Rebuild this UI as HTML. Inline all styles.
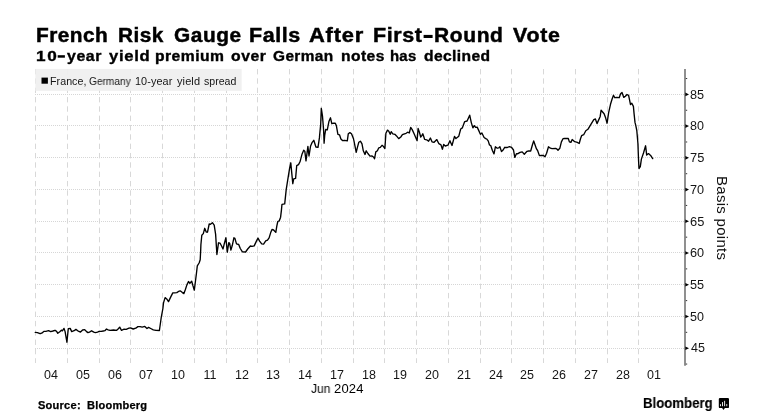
<!DOCTYPE html>
<html><head><meta charset="utf-8"><title>Chart</title>
<style>
html,body{margin:0;padding:0;background:#fff;}
body{width:760px;height:414px;position:relative;overflow:hidden;font-family:"Liberation Sans",sans-serif;color:#000;}
.w{will-change:transform;position:absolute;white-space:nowrap;line-height:1;transform-origin:0 0;display:block;}
.g{color:#151515;}
.c{width:40px;text-align:center;}
#title .w{-webkit-text-stroke:0.45px #000;}
#sub .w{-webkit-text-stroke:0.35px #000;}
#bp{will-change:transform;position:absolute;white-space:nowrap;line-height:1;left:730.4px;top:176.2px;font-size:15px;transform-origin:0 0;transform:rotate(90deg);letter-spacing:0.28px;color:#111;}
svg{position:absolute;left:0;top:0;}
</style></head><body>
<svg width="760" height="414" viewBox="0 0 760 414">
<g stroke="#d8d8d8" stroke-width="1" stroke-dasharray="5.4 3.93" fill="none"><line x1="35.5" y1="69" x2="35.5" y2="363"/><line x1="67.5" y1="69" x2="67.5" y2="363"/><line x1="99.5" y1="69" x2="99.5" y2="363"/><line x1="130.5" y1="69" x2="130.5" y2="363"/><line x1="162.5" y1="69" x2="162.5" y2="363"/><line x1="194.5" y1="69" x2="194.5" y2="363"/><line x1="226.5" y1="69" x2="226.5" y2="363"/><line x1="257.5" y1="69" x2="257.5" y2="363"/><line x1="289.5" y1="69" x2="289.5" y2="363"/><line x1="321.5" y1="69" x2="321.5" y2="363"/><line x1="353.5" y1="69" x2="353.5" y2="363"/><line x1="384.5" y1="69" x2="384.5" y2="363"/><line x1="416.5" y1="69" x2="416.5" y2="363"/><line x1="448.5" y1="69" x2="448.5" y2="363"/><line x1="480.5" y1="69" x2="480.5" y2="363"/><line x1="511.5" y1="69" x2="511.5" y2="363"/><line x1="543.5" y1="69" x2="543.5" y2="363"/><line x1="575.5" y1="69" x2="575.5" y2="363"/><line x1="607.5" y1="69" x2="607.5" y2="363"/><line x1="638.5" y1="69" x2="638.5" y2="363"/></g>
<g stroke="#d6d6d6" stroke-width="1" stroke-dasharray="1 1" fill="none"><line x1="35" y1="348.5" x2="684.5" y2="348.5"/><line x1="35" y1="316.5" x2="684.5" y2="316.5"/><line x1="35" y1="284.5" x2="684.5" y2="284.5"/><line x1="35" y1="252.5" x2="684.5" y2="252.5"/><line x1="35" y1="221.5" x2="684.5" y2="221.5"/><line x1="35" y1="189.5" x2="684.5" y2="189.5"/><line x1="35" y1="157.5" x2="684.5" y2="157.5"/><line x1="35" y1="125.5" x2="684.5" y2="125.5"/><line x1="35" y1="94.5" x2="684.5" y2="94.5"/></g>
<rect x="35.3" y="68.9" width="206.4" height="22" fill="#efefef" fill-opacity="0.93"/>
<rect x="423.6" y="34.9" width="9" height="3.1" fill="#000"/><rect x="57.7" y="55.2" width="7.2" height="2.5" fill="#000"/>
<rect x="41.5" y="77.6" width="6.4" height="6.1" fill="#000"/>
<line x1="685" y1="69" x2="685" y2="365.8" stroke="#7c7c7c" stroke-width="1.7"/>
<path d="M685.3 346.40 L689.0 348.20 L685.3 350.00 Z" fill="#000"/><path d="M685.3 314.68 L689.0 316.48 L685.3 318.28 Z" fill="#000"/><path d="M685.3 282.95 L689.0 284.75 L685.3 286.55 Z" fill="#000"/><path d="M685.3 251.22 L689.0 253.03 L685.3 254.83 Z" fill="#000"/><path d="M685.3 219.50 L689.0 221.30 L685.3 223.10 Z" fill="#000"/><path d="M685.3 187.77 L689.0 189.57 L685.3 191.38 Z" fill="#000"/><path d="M685.3 156.05 L689.0 157.85 L685.3 159.65 Z" fill="#000"/><path d="M685.3 124.33 L689.0 126.12 L685.3 127.92 Z" fill="#000"/><path d="M685.3 92.60 L689.0 94.40 L685.3 96.20 Z" fill="#000"/><line x1="685.8" y1="364.06" x2="687.2" y2="364.06" stroke="#333" stroke-width="1"/><line x1="685.8" y1="332.34" x2="687.2" y2="332.34" stroke="#333" stroke-width="1"/><line x1="685.8" y1="300.61" x2="687.2" y2="300.61" stroke="#333" stroke-width="1"/><line x1="685.8" y1="268.89" x2="687.2" y2="268.89" stroke="#333" stroke-width="1"/><line x1="685.8" y1="237.16" x2="687.2" y2="237.16" stroke="#333" stroke-width="1"/><line x1="685.8" y1="205.44" x2="687.2" y2="205.44" stroke="#333" stroke-width="1"/><line x1="685.8" y1="173.71" x2="687.2" y2="173.71" stroke="#333" stroke-width="1"/><line x1="685.8" y1="141.99" x2="687.2" y2="141.99" stroke="#333" stroke-width="1"/><line x1="685.8" y1="110.26" x2="687.2" y2="110.26" stroke="#333" stroke-width="1"/><line x1="685.8" y1="78.54" x2="687.2" y2="78.54" stroke="#333" stroke-width="1"/>
<polyline points="35.3,332.4 37.4,332.6 40.1,333.7 41.7,333.2 43.8,331.4 45.9,331.4 48.6,330.7 50.7,331.6 52.9,331.0 55.0,330.3 56.6,331.4 57.8,333.3 59.8,331.8 61.4,330.2 62.4,330.8 64.0,328.4 65.1,331.6 66.9,342.2 68.3,328.6 70.2,328.4 71.7,331.6 74.1,330.7 75.9,329.4 77.8,330.8 80.5,332.1 82.6,330.0 84.7,329.6 86.3,331.4 87.9,332.6 89.5,332.1 91.6,330.8 93.8,332.1 95.4,332.6 97.5,332.1 99.1,331.4 101.2,331.4 103.3,331.0 104.9,330.7 106.5,329.0 108.1,329.8 110.0,330.3 113.5,330.0 116.7,330.3 118.3,328.7 119.7,327.1 121.5,330.3 124.1,329.2 126.2,329.4 128.9,328.2 130.5,327.9 133.2,329.0 135.8,328.2 137.9,326.6 140.1,326.6 142.2,327.1 144.8,326.4 147.0,328.5 148.6,327.4 150.7,328.5 153.3,329.8 156.0,330.4 159.4,330.5 161.3,317.0 162.9,308.5 163.5,302.9 165.1,297.6 166.7,298.9 168.5,301.6 170.9,296.6 172.8,292.9 174.7,292.9 176.8,292.6 178.9,291.2 180.5,291.0 182.4,292.6 183.9,293.6 185.3,289.7 186.9,284.9 188.5,281.5 189.9,283.3 191.7,281.2 193.0,285.9 194.3,290.2 196.3,274.5 197.3,265.8 199.1,263.0 200.2,259.8 200.7,250.1 200.9,244.8 201.8,235.2 203.3,233.6 204.7,228.3 206.2,232.0 207.5,232.2 209.2,224.0 210.5,224.3 212.4,222.7 214.2,225.1 215.6,234.1 216.9,254.5 218.5,242.8 220.1,243.2 221.7,246.3 223.0,249.0 224.3,243.7 225.9,237.8 227.3,252.2 228.8,242.6 229.6,243.2 230.9,250.1 232.3,245.3 233.9,237.8 234.9,238.4 236.5,243.9 238.7,244.5 240.3,248.5 242.4,251.9 245.6,252.0 247.7,249.0 250.4,246.0 252.1,246.4 254.2,245.9 256.4,241.1 258.0,238.2 259.6,241.1 261.7,243.8 263.6,244.1 265.7,240.9 267.5,240.1 269.1,237.9 270.7,232.6 272.0,229.4 273.6,230.0 275.8,232.4 276.8,226.2 277.8,221.5 279.2,220.9 280.6,217.2 281.4,210.3 281.9,205.0 282.0,204.4 284.7,203.9 286.2,189.6 287.9,178.9 289.6,168.3 290.8,162.8 291.4,169.4 292.8,183.7 293.7,178.9 295.6,178.4 296.7,165.7 298.5,164.6 300.0,161.8 302.1,153.9 303.7,150.2 304.8,151.2 306.0,160.8 307.9,146.4 309.0,156.0 310.6,145.9 312.0,142.7 313.8,140.3 315.9,147.0 318.0,147.3 319.4,137.9 320.7,124.1 321.3,108.3 322.5,116.2 323.6,130.1 324.1,143.2 324.7,135.4 325.7,129.5 327.3,129.9 328.9,121.6 330.5,117.8 331.8,123.7 333.7,123.2 335.3,123.2 336.4,125.8 337.9,134.3 339.5,134.8 340.9,139.0 342.5,140.6 344.6,140.3 347.3,140.9 348.3,133.7 349.9,132.6 351.5,133.7 353.6,139.0 353.7,139.7 355.1,146.6 356.2,152.4 357.5,147.1 358.8,142.3 360.4,141.2 362.0,143.9 363.3,150.8 365.0,154.5 366.2,150.8 367.9,153.5 370.0,156.1 372.1,155.9 373.7,157.2 374.5,158.8 375.8,151.9 377.4,150.8 378.8,147.8 380.3,147.4 382.0,145.3 383.5,146.6 384.9,148.5 385.9,133.3 387.5,130.1 388.8,131.2 390.2,134.3 391.2,131.7 392.8,133.8 394.9,134.3 396.5,135.9 398.7,138.6 400.8,137.0 402.4,134.7 404.5,133.8 406.1,133.3 407.7,132.2 409.3,133.0 410.7,127.4 412.2,129.6 414.1,133.8 415.7,137.5 417.1,140.7 418.1,128.5 419.4,132.2 420.7,137.0 421.7,135.9 422.8,133.8 423.9,137.0 424.6,139.4 426.7,139.8 428.6,141.2 430.4,138.0 432.0,141.8 434.1,142.3 436.8,139.6 438.9,143.7 441.0,144.9 442.4,149.2 443.7,144.4 445.3,146.0 447.9,145.2 449.9,140.7 452.0,145.5 454.5,136.4 455.9,138.6 458.8,136.2 460.7,129.0 462.3,127.9 464.7,121.6 467.1,121.0 469.7,115.2 471.3,122.6 472.9,127.9 474.3,125.6 475.6,127.4 477.2,127.1 478.8,130.6 480.4,134.3 481.9,133.0 484.1,137.5 485.7,138.6 486.6,138.8 488.2,140.9 489.5,145.0 490.8,145.7 492.4,150.5 494.0,153.9 495.4,146.8 497.2,148.2 498.8,147.8 499.9,146.8 501.5,151.6 503.1,150.0 504.7,147.3 507.3,147.5 509.4,146.6 511.6,147.3 513.5,150.0 514.8,157.4 516.4,153.7 517.9,153.7 520.1,152.4 522.2,151.9 524.3,154.2 527.0,151.3 528.6,151.0 530.7,151.0 532.3,145.2 533.7,140.9 535.0,144.7 536.5,148.9 537.6,150.5 539.4,155.6 541.3,155.3 543.5,155.5 545.0,156.7 546.6,153.2 548.5,146.8 550.4,148.2 552.0,148.6 555.7,148.4 556.6,148.8 558.0,150.2 559.8,148.3 561.4,141.9 563.0,138.7 564.6,138.5 568.3,138.5 569.4,141.9 570.9,142.4 572.2,139.5 574.7,141.7 577.3,142.4 579.2,143.5 580.5,138.7 581.6,135.7 583.7,134.7 585.8,130.7 587.9,129.3 590.6,124.9 593.8,119.6 595.4,119.0 597.0,123.6 598.6,120.1 600.2,116.4 601.1,110.2 604.1,113.7 605.7,118.1 607.1,123.2 608.6,112.8 610.5,104.3 612.1,99.0 613.5,95.3 614.8,97.7 616.9,97.4 619.2,97.7 620.6,93.7 622.0,92.4 623.8,97.4 625.4,96.3 627.0,94.5 628.6,95.3 629.6,100.1 630.5,104.5 631.8,103.2 633.4,106.4 634.1,113.9 635.0,122.4 635.7,125.2 636.8,130.5 637.9,143.2 638.6,161.2 639.0,168.5 640.3,166.6 641.4,159.1 643.5,153.0 645.6,145.8 646.7,155.1 648.5,153.6 650.6,155.4 652.7,158.6" fill="none" stroke="#000" stroke-width="1.35" stroke-linejoin="round" stroke-linecap="round"/>
<g fill="#000"><rect x="718.8" y="397.9" width="10.2" height="10.2" rx="1.2"/><path d="M721.9 407.8 L725.1 407.8 L723.5 409.9 Z"/></g>
<g fill="#fff"><rect x="720.0" y="404.2" width="0.9" height="2"/><rect x="722.1" y="402.1" width="0.9" height="4.1"/><rect x="724.2" y="400.8" width="0.9" height="5.4"/><rect x="726.4" y="404" width="0.8" height="2.2"/></g>
</svg>
<div id="title"><span class="w" style="left:35.50px;top:25.96px;font-size:19.3px;font-weight:bold;letter-spacing:0.444px;transform:scaleX(1.0803);">French</span><span class="w" style="left:117.60px;top:25.96px;font-size:19.3px;font-weight:bold;letter-spacing:0.462px;transform:scaleX(1.0787);">Risk</span><span class="w" style="left:173.65px;top:25.96px;font-size:19.3px;font-weight:bold;letter-spacing:0.519px;transform:scaleX(1.0794);">Gauge</span><span class="w" style="left:249.06px;top:25.96px;font-size:19.3px;font-weight:bold;letter-spacing:0.533px;transform:scaleX(1.1128);">Falls</span><span class="w" style="left:309.26px;top:25.96px;font-size:19.3px;font-weight:bold;letter-spacing:0.685px;transform:scaleX(1.1355);">After</span><span class="w" style="left:372.96px;top:25.96px;font-size:19.3px;font-weight:bold;letter-spacing:0.516px;transform:scaleX(1.1130);">First</span><span class="w" style="left:434.19px;top:25.96px;font-size:19.3px;font-weight:bold;letter-spacing:0.573px;transform:scaleX(1.0878);">Round</span><span class="w" style="left:512.50px;top:25.96px;font-size:19.3px;font-weight:bold;letter-spacing:0.649px;transform:scaleX(1.1085);">Vote</span></div>
<div id="sub"><span class="w" style="left:35.73px;top:48.84px;font-size:14.25px;font-weight:bold;letter-spacing:1.385px;transform:scaleX(1.2050);">10</span><span class="w" style="left:66.80px;top:48.84px;font-size:14.25px;font-weight:bold;letter-spacing:0.498px;transform:scaleX(1.1139);">year</span><span class="w" style="left:109.20px;top:48.84px;font-size:14.25px;font-weight:bold;letter-spacing:0.603px;transform:scaleX(1.1656);">yield</span><span class="w" style="left:155.22px;top:48.84px;font-size:14.25px;font-weight:bold;letter-spacing:0.434px;transform:scaleX(1.0996);">premium</span><span class="w" style="left:230.51px;top:48.84px;font-size:14.25px;font-weight:bold;letter-spacing:0.465px;transform:scaleX(1.1054);">over</span><span class="w" style="left:273.12px;top:48.84px;font-size:14.25px;font-weight:bold;letter-spacing:0.377px;transform:scaleX(1.0805);">German</span><span class="w" style="left:340.52px;top:48.84px;font-size:14.25px;font-weight:bold;letter-spacing:0.395px;transform:scaleX(1.0967);">notes</span><span class="w" style="left:389.57px;top:48.84px;font-size:14.25px;font-weight:bold;letter-spacing:0.242px;transform:scaleX(1.0479);">has</span><span class="w" style="left:423.71px;top:48.84px;font-size:14.25px;font-weight:bold;letter-spacing:0.349px;transform:scaleX(1.0969);">declined</span></div>
<div id="leg" class="g"><span class="w" style="left:49.77px;top:76.01px;font-size:10.5px;font-weight:normal;letter-spacing:0.040px;transform:scaleX(1.0165);">France,</span><span class="w" style="left:88.82px;top:76.01px;font-size:10.5px;font-weight:normal;letter-spacing:0.000px;transform:scaleX(0.9652);">Germany</span><span class="w" style="left:135.32px;top:76.01px;font-size:10.5px;font-weight:normal;letter-spacing:0.085px;transform:scaleX(1.0337);">10-year</span><span class="w" style="left:177.10px;top:76.01px;font-size:10.5px;font-weight:normal;letter-spacing:0.105px;transform:scaleX(1.0456);">yield</span><span class="w" style="left:203.74px;top:76.01px;font-size:10.5px;font-weight:normal;letter-spacing:0.015px;transform:scaleX(1.0055);">spread</span></div>
<div id="xl" class="g"><span class="w c" style="left:31.00px;top:368.62px;font-size:12.5px">04</span><span class="w c" style="left:63.00px;top:368.62px;font-size:12.5px">05</span><span class="w c" style="left:94.50px;top:368.62px;font-size:12.5px">06</span><span class="w c" style="left:126.00px;top:368.62px;font-size:12.5px">07</span><span class="w c" style="left:158.00px;top:368.62px;font-size:12.5px">10</span><span class="w c" style="left:190.00px;top:368.62px;font-size:12.5px">11</span><span class="w c" style="left:221.50px;top:368.62px;font-size:12.5px">12</span><span class="w c" style="left:253.00px;top:368.62px;font-size:12.5px">13</span><span class="w c" style="left:285.00px;top:368.62px;font-size:12.5px">14</span><span class="w c" style="left:317.00px;top:368.62px;font-size:12.5px">17</span><span class="w c" style="left:348.50px;top:368.62px;font-size:12.5px">18</span><span class="w c" style="left:380.00px;top:368.62px;font-size:12.5px">19</span><span class="w c" style="left:412.00px;top:368.62px;font-size:12.5px">20</span><span class="w c" style="left:444.00px;top:368.62px;font-size:12.5px">21</span><span class="w c" style="left:475.50px;top:368.62px;font-size:12.5px">24</span><span class="w c" style="left:507.00px;top:368.62px;font-size:12.5px">25</span><span class="w c" style="left:539.00px;top:368.62px;font-size:12.5px">26</span><span class="w c" style="left:571.00px;top:368.62px;font-size:12.5px">27</span><span class="w c" style="left:602.50px;top:368.62px;font-size:12.5px">28</span><span class="w c" style="left:634.00px;top:368.62px;font-size:12.5px">01</span></div>
<div id="yl" class="g"><span class="w" style="left:690.60px;top:342.42px;font-size:12.5px;font-weight:normal;letter-spacing:0.000px;transform:scaleX(0.9999);">45</span><span class="w" style="left:690.41px;top:310.69px;font-size:12.5px;font-weight:normal;letter-spacing:0.000px;transform:scaleX(0.9999);">50</span><span class="w" style="left:690.40px;top:278.97px;font-size:12.5px;font-weight:normal;letter-spacing:0.000px;transform:scaleX(1.0149);">55</span><span class="w" style="left:690.21px;top:247.24px;font-size:12.5px;font-weight:normal;letter-spacing:0.000px;transform:scaleX(1.0149);">60</span><span class="w" style="left:690.20px;top:215.52px;font-size:12.5px;font-weight:normal;letter-spacing:0.000px;transform:scaleX(1.0303);">65</span><span class="w" style="left:690.21px;top:183.79px;font-size:12.5px;font-weight:normal;letter-spacing:0.000px;transform:scaleX(1.0149);">70</span><span class="w" style="left:690.20px;top:152.07px;font-size:12.5px;font-weight:normal;letter-spacing:0.000px;transform:scaleX(1.0303);">75</span><span class="w" style="left:690.41px;top:120.34px;font-size:12.5px;font-weight:normal;letter-spacing:0.000px;transform:scaleX(0.9999);">80</span><span class="w" style="left:690.40px;top:88.62px;font-size:12.5px;font-weight:normal;letter-spacing:0.000px;transform:scaleX(1.0149);">85</span></div>
<div id="misc"><span class="w" style="left:310.81px;top:383.12px;font-size:12.5px;font-weight:normal;letter-spacing:0.000px;transform:scaleX(0.9607);">Jun</span><span class="w" style="left:333.69px;top:383.12px;font-size:12.5px;font-weight:normal;letter-spacing:0.159px;transform:scaleX(1.0406);">2024</span><span class="w" style="left:38.43px;top:400.58px;font-size:10.3px;font-weight:bold;letter-spacing:0.208px;transform:scaleX(1.0756);-webkit-text-stroke:0.25px #000;">Source:</span><span class="w" style="left:86.61px;top:400.58px;font-size:10.3px;font-weight:bold;letter-spacing:0.212px;transform:scaleX(1.0721);-webkit-text-stroke:0.25px #000;">Bloomberg</span><span class="w" style="left:643.07px;top:395.89px;font-size:14.9px;font-weight:bold;letter-spacing:0.000px;transform:scaleX(0.8859);-webkit-text-stroke:0.15px #000;">Bloomberg</span></div>
<div id="bp">Basis points</div>
</body></html>
